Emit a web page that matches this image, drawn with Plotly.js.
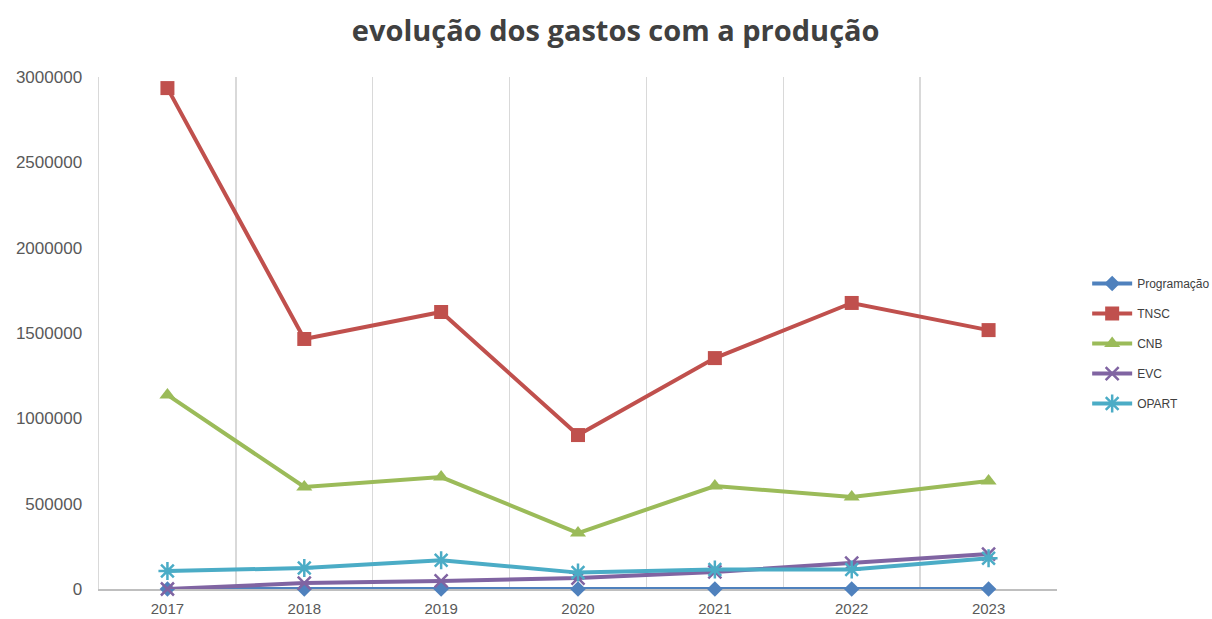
<!DOCTYPE html>
<html>
<head>
<meta charset="utf-8">
<script src="https://cdn.plot.ly/plotly-3.0.1.min.js"></script>
<style>html,body{margin:0;padding:0;background:#fff;}#chart{width:1212px;height:619px;}</style>
</head>
<body>
<div id="chart"></div>
<script>
const years = ["2017","2018","2019","2020","2021","2022","2023"];
const programacao = [0, 0, 0, 0, 0, 0, 0];
const tnsc = [2935000, 1465000, 1623000, 902000, 1353000, 1676000, 1517000];
const cnb = [1137000, 598000, 656000, 328000, 603000, 539000, 633000];
const evc = [0, 35000, 47000, 64000, 100000, 152000, 205000];
const opart = [105000, 123000, 168000, 96000, 114000, 114000, 180000];

const seriesNames = ["Programação", "TNSC", "CNB", "EVC", "OPART"];
const seriesData = [programacao, tnsc, cnb, evc, opart];
const colors = ["#4F81BD", "#C0504D", "#9BBB59", "#8064A2", "#4BACC6"];
const symbols = ["diamond", "square", "triangle-up", "x-thin-open", "asterisk-open"];
const sizes = [12, 14, 14, 13, 15];

const xIdx = years.map((_, i) => i);

const traces = seriesData.map((d, i) => ({
  x: xIdx, y: d, name: seriesNames[i], type: "scatter", mode: "lines+markers",
  legendgroup: "g" + i, cliponaxis: false,
  line: {color: colors[i], width: 4},
  marker: {symbol: symbols[i], size: sizes[i], color: colors[i],
           line: {color: colors[i], width: (i >= 3 ? 2.5 : 0)}}
}));

const layout = {
  width: 1212, height: 619,
  margin: {l: 99, r: 155, t: 77, b: 30, autoexpand: false},
  paper_bgcolor: "#fff", plot_bgcolor: "#fff",
  title: {text: "<b>evolução dos gastos com a produção</b>", x: 0.508, xanchor: "center", y: 0.95, yanchor: "middle",
          font: {family: "Open Sans, Liberation Sans, sans-serif", size: 29, color: "#404040"}},
  font: {family: "Liberation Sans, Arial, sans-serif", color: "#595959"},
  xaxis: {range: [-0.5, 6.5], tickvals: xIdx, ticktext: years, showgrid: false, layer: "below traces",
          minor: {tick0: -0.5, dtick: 1, showgrid: true, gridcolor: "#d9d9d9", gridwidth: 1.5, ticks: ""},
          showline: true, linecolor: "#bfbfbf", linewidth: 1.5, ticks: "", zeroline: false,
          ticklabelstandoff: 5, tickfont: {size: 15, color: "#595959"}},
  yaxis: {range: [0, 3000000], dtick: 500000, tickformat: "d", showgrid: false, zeroline: false, layer: "below traces",
          showline: true, linecolor: "#d9d9d9", linewidth: 1.5, ticks: "", ticklabelstandoff: 12,
          tickfont: {size: 17, color: "#595959"}},
  showlegend: true,
  legend: {xref: "container", yref: "container", x: 0.897, xanchor: "left", y: 0.445, yanchor: "middle",
           traceorder: "grouped", tracegroupgap: 11,
           font: {size: 12, color: "#404040"}, itemwidth: 40, bgcolor: "rgba(0,0,0,0)"}
};

Plotly.newPlot("chart", traces, layout, {displayModeBar: false, staticPlot: true});
</script>
</body>
</html>
